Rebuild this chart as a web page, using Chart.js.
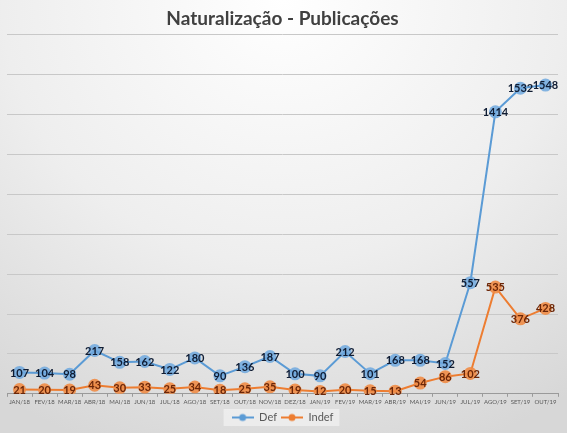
<!DOCTYPE html>
<html>
<head>
<meta charset="utf-8">
<script src="https://cdn.jsdelivr.net/npm/chart.js@4"></script>
<style>
  html, body { margin: 0; padding: 0; }
  body {
    width: 567px; height: 433px; overflow: hidden;
    background: radial-gradient(ellipse 90% 110% at 50% 0%, #ffffff 0%, #eeeeee 55%, #d7d7d7 100%);
  }
  #wrap { position: relative; width: 567px; height: 433px; }
</style>
</head>
<body>
<div id="wrap"><canvas id="myChart"></canvas></div>
<script>
const categories = [
  "JAN/18", "FEV/18", "MAR/18", "ABR/18", "MAI/18", "JUN/18", "JUL/18", "AGO/18",
  "SET/18", "OUT/18", "NOV/18", "DEZ/18", "JAN/19", "FEV/19", "MAR/19", "ABR/19",
  "MAI/19", "JUN/19", "JUL/19", "AGO/19", "SET/19", "OUT/19"
];
const defValues = [107, 104, 98, 217, 158, 162, 122, 180, 90, 136, 187, 100, 90, 212, 101, 168, 168, 152, 557, 1414, 1532, 1548];
const indefValues = [21, 20, 19, 43, 30, 33, 25, 34, 18, 25, 35, 19, 12, 20, 15, 13, 54, 86, 102, 535, 376, 428];
const yMin = 0;
const yMax = 1800;
const yStep = 200;

const blue = '#5b9bd5';
const orange = '#ed7d31';

// legend marker: short line with a dot, like the office chart
function legendMarker(color) {
  const c = document.createElement('canvas');
  c.width = 22; c.height = 10;
  const g = c.getContext('2d');
  g.strokeStyle = color; g.lineWidth = 2;
  g.beginPath(); g.moveTo(0, 5); g.lineTo(22, 5); g.stroke();
  g.fillStyle = color;
  g.beginPath(); g.arc(11, 5, 3.5, 0, Math.PI * 2); g.fill();
  return c;
}

const pointLabels = {
  id: 'pointLabels',
  afterDatasetsDraw(chart) {
    const ctx = chart.ctx;
    ctx.save();
    ctx.font = 'bold 11px Lato';
    ctx.textAlign = 'center';
    ctx.textBaseline = 'middle';
    chart.data.datasets.forEach((ds, i) => {
      const meta = chart.getDatasetMeta(i);
      ctx.fillStyle = ds.labelColor;
      meta.data.forEach((pt, j) => {
        ctx.fillText(ds.data[j], pt.x, pt.y + 0.5);
      });
    });
    ctx.restore();
  }
};

const legendBox = {
  id: 'legendBox',
  beforeDraw(chart) {
    const boxes = chart.legend && chart.legend.legendHitBoxes;
    if (!boxes || !boxes.length) return;
    const left = boxes[0].left - 8;
    const right = boxes[boxes.length - 1].left + boxes[boxes.length - 1].width + 6;
    const top = boxes[0].top - 3;
    const h = boxes[0].height + 6;
    const ctx = chart.ctx;
    ctx.save();
    ctx.fillStyle = 'rgba(255,255,255,0.45)';
    ctx.fillRect(left, top, right - left, h);
    ctx.restore();
  }
};

const ctx = document.getElementById('myChart');

new Chart(ctx, {
  type: 'line',
  data: {
    labels: categories,
    datasets: [
      {
        label: 'Def',
        data: defValues,
        borderColor: blue,
        backgroundColor: 'rgba(91,155,213,0.8)',
        borderWidth: 2,
        pointRadius: 6.5,
        pointBorderWidth: 0,
        pointBackgroundColor: 'rgba(110,168,222,0.85)',
        labelColor: '#0f1c33',
        tension: 0
      },
      {
        label: 'Indef',
        data: indefValues,
        borderColor: orange,
        backgroundColor: 'rgba(237,125,49,0.8)',
        borderWidth: 2,
        pointRadius: 6.5,
        pointBorderWidth: 0,
        pointBackgroundColor: 'rgba(240,140,70,0.9)',
        labelColor: '#6b2608',
        tension: 0
      }
    ]
  },
  plugins: [legendBox, pointLabels],
  options: {
    responsive: true,
    maintainAspectRatio: false,
    animation: false,
    layout: {
      padding: { left: 7, right: 9, top: 0, bottom: 0 }
    },
    plugins: {
      title: {
        display: true,
        text: 'Naturalização - Publicações',
        color: '#404040',
        font: { family: 'Lato', size: 19, weight: 'bold' },
        padding: { top: 7, bottom: 5 }
      },
      legend: {
        position: 'bottom',
        labels: {
          color: '#595959',
          font: { family: 'Lato', size: 11 },
          usePointStyle: true,
          pointStyleWidth: 22,
          padding: 4,
          generateLabels(chart) {
            const items = Chart.defaults.plugins.legend.labels.generateLabels(chart);
            items.forEach((it, i) => {
              it.pointStyle = legendMarker(chart.data.datasets[i].borderColor);
            });
            return items;
          }
        }
      },
      tooltip: { enabled: false }
    },
    scales: {
      y: {
        min: yMin,
        max: yMax,
        ticks: { display: false, stepSize: yStep },
        border: { display: false },
        grid: { color: '#c8c8c8', drawTicks: false, lineWidth: 1 }
      },
      x: {
        offset: true,
        ticks: {
          color: '#595959',
          font: { family: 'Lato', size: 6 },
          maxRotation: 0,
          autoSkip: false,
          padding: 2
        },
        border: { color: '#9a9a9a', width: 1 },
        grid: {
          display: true,
          drawOnChartArea: false,
          drawTicks: true,
          tickLength: 3,
          color: '#9a9a9a',
          offset: true
        }
      }
    }
  }
});
</script>
</body>
</html>
